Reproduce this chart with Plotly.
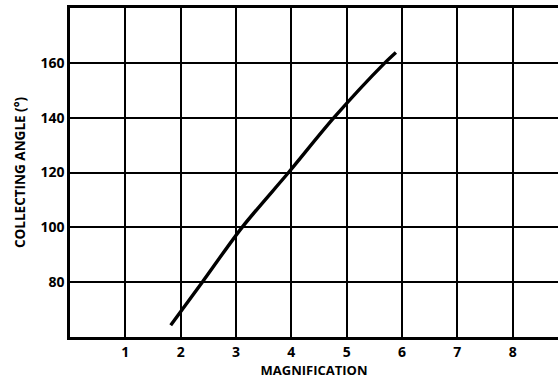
import plotly.graph_objects as go

# Collecting angle versus magnification
magnification = [1.82, 2.39, 3.11, 3.95, 4.77, 5.69, 5.89]
collecting_angle = [64.3, 80.0, 100.0, 120.0, 140.0, 160.0, 163.8]

x_ticks = [1, 2, 3, 4, 5, 6, 7, 8]
y_ticks = [80, 100, 120, 140, 160]

fig = go.Figure()
fig.add_trace(go.Scatter(
    x=magnification, y=collecting_angle, mode="lines",
    line=dict(color="black", width=3.4, shape="spline", smoothing=0.8),
    showlegend=False, hoverinfo="skip",
))

font = dict(family="Open Sans", size=13, color="black", weight=700)

fig.update_layout(
    width=558, height=383,
    margin=dict(l=70, r=0, t=8, b=46),
    paper_bgcolor="white", plot_bgcolor="white",
    font=font,
    xaxis=dict(
        range=[0, 8.82], tickvals=x_ticks, ticktext=[str(v) for v in x_ticks],
        showgrid=True, gridcolor="black", gridwidth=1.6,
        showline=True, linecolor="black", linewidth=2.6, mirror=True,
        ticks="", zeroline=False, tickfont=dict(size=14),
        title=dict(text="MAGNIFICATION", font=dict(size=13), standoff=4),
    ),
    yaxis=dict(
        range=[60, 180], tickvals=y_ticks, ticktext=[str(v) for v in y_ticks],
        showgrid=True, gridcolor="black", gridwidth=1.6,
        showline=True, linecolor="black", linewidth=2.6, mirror=False,
        ticks="", zeroline=False, tickfont=dict(size=14),
        title=dict(text="COLLECTING ANGLE (°)", font=dict(size=13.5), standoff=12),
    ),
)

fig.write_html("out.html")
